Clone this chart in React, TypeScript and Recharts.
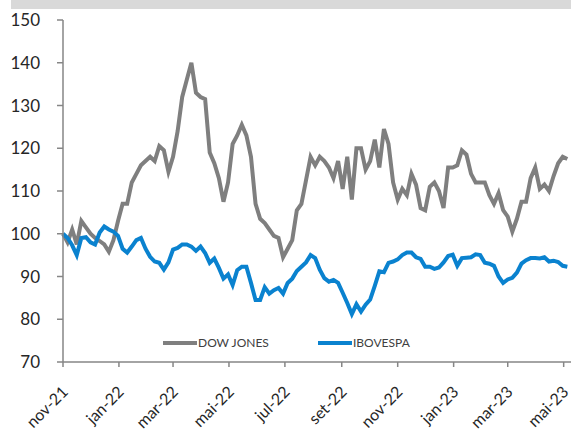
import React from "react"
import { LineChart, Line, XAxis, YAxis, Legend } from "recharts"

// sampled every 5 days starting 1 Nov 2021 (index base = 100)
const dowJones = [
  100, 98, 101, 97.5, 103, 101.5, 100, 99, 98.3, 97.5,
  95.8, 98.5, 103, 107, 107, 112, 114, 116, 117, 118,
  117, 120.5, 119.5, 114.5, 118, 124, 132, 136, 140, 133,
  132, 131.5, 119, 116.5, 113, 107.5, 112, 121, 123, 125.5,
  123, 118, 107, 103.5, 102.5, 101, 99.5, 99, 94.5, 96.5,
  98.5, 105.5, 107, 112.5, 118, 116, 118, 117, 115.5, 113,
  117, 110.5, 118, 108, 120, 120, 115, 117, 122, 115.5,
  124.5, 121, 112, 108, 110.5, 109, 114, 111.5, 106, 105.5,
  111, 112, 110, 106, 115.5, 115.5, 116, 119.5, 118.5, 114,
  112, 112, 112, 109, 107, 109.5, 105.5, 104, 100.5, 103.5,
  107.5, 107.5, 113, 115.5, 110.5, 111.5, 110, 113.5, 116.5, 118,
  117.5,
]

const ibovespa = [
  100, 99, 97.3, 95, 99, 99.2, 98, 97.5, 100.3, 101.7,
  101, 100.5, 99.5, 96.5, 95.6, 97, 98.5, 99, 96.5, 94.6,
  93.5, 93.2, 91.6, 93.3, 96.3, 96.7, 97.5, 97.5, 97, 96,
  97, 95.5, 93.2, 94.2, 92, 89.5, 90.5, 88, 91.5, 92.3,
  92.3, 88.5, 84.5, 84.5, 87.5, 86, 86.8, 87.3, 86, 88.5,
  89.5, 91.3, 92.3, 93.3, 95, 94.3, 91.6, 89.6, 88.8, 89.2,
  88.5, 86.2, 83.8, 81.2, 83.5, 81.8, 83.4, 84.6, 87.8, 91.2,
  91, 93.2, 93.5, 94, 95, 95.6, 95.6, 94.5, 94.1, 92.3,
  92.3, 91.8, 92.1, 93.3, 94.8, 95.1, 92.5, 94.3, 94.4, 94.5,
  95.2, 95, 93.2, 93, 92.5, 90, 88.5, 89.3, 89.7, 90.9,
  93, 93.8, 94.3, 94.3, 94.2, 94.5, 93.5, 93.7, 93.4, 92.5,
  92.3,
]

// days since 1 Nov 2021 for each month tick
const monthTicks = [0, 61, 120, 181, 242, 304, 365, 426, 485, 546]
const monthLabels = ["nov-21", "jan-22", "mar-22", "mai-22", "jul-22", "set-22", "nov-22", "jan-23", "mar-23", "mai-23"]
const yTicks = [70, 80, 90, 100, 110, 120, 130, 140, 150]

const data = dowJones.map((v, i) => ({ day: i * 5, dow: v, ibov: ibovespa[i] }))

const AXIS = "#868686"
const TEXT = "#262626"
const FONT = "Lato, 'Open Sans', sans-serif"

const XTick = (props: any) => {
  const { x, y, payload } = props
  const label = monthLabels[monthTicks.indexOf(payload.value)]
  const tx = x + 6
  const ty = y + 24
  return (
    <text x={tx} y={ty} transform={`rotate(-45, ${tx}, ${ty})`} textAnchor="end"
      fill={TEXT} fontSize={16} fontFamily={FONT}>
      {label}
    </text>
  )
}

// zero height so the legend does not shrink the plot area
const renderLegend = () => (
  <div style={{ position: "relative", height: 0, fontFamily: FONT, fontSize: 12, color: "#404040" }}>
    <div style={{ position: "absolute", left: 163, top: 6, width: 34, height: 4, background: "#7f7f7f" }} />
    <span style={{ position: "absolute", left: 198, top: 0, whiteSpace: "nowrap" }}>DOW JONES</span>
    <div style={{ position: "absolute", left: 318, top: 6, width: 34, height: 4, background: "#0a82cf" }} />
    <span style={{ position: "absolute", left: 353, top: 0, whiteSpace: "nowrap" }}>IBOVESPA</span>
  </div>
)

export default function App() {
  return (
    <div style={{ position: "absolute", left: 0, top: 0, width: 571, height: 430, background: "#fff", overflow: "hidden" }}>
      <div style={{ position: "absolute", left: 11, top: 0, width: 560, height: 9, background: "#d9d9d9" }} />
      <LineChart width={571} height={430} data={data} margin={{ top: 20, right: 0, bottom: 0, left: 0 }}>
        <XAxis dataKey="day" type="number" domain={[0, 554]} ticks={monthTicks} interval={0}
          height={68} tickSize={5} stroke={AXIS} strokeWidth={1.5} tick={<XTick />} />
        <YAxis domain={[70, 150]} ticks={yTicks} width={63} tickSize={6} tickMargin={17} interval={0}
          stroke={AXIS} strokeWidth={1.5} tick={{ fill: TEXT, fontSize: 17, fontFamily: FONT }} />
        <Legend content={renderLegend} wrapperStyle={{ position: "absolute", top: 335, left: 0, width: 571, height: 0 }} />
        <Line dataKey="dow" stroke="#7f7f7f" strokeWidth={4} dot={false} isAnimationActive={false} />
        <Line dataKey="ibov" stroke="#0a82cf" strokeWidth={4} dot={false} isAnimationActive={false} />
      </LineChart>
    </div>
  )
}
